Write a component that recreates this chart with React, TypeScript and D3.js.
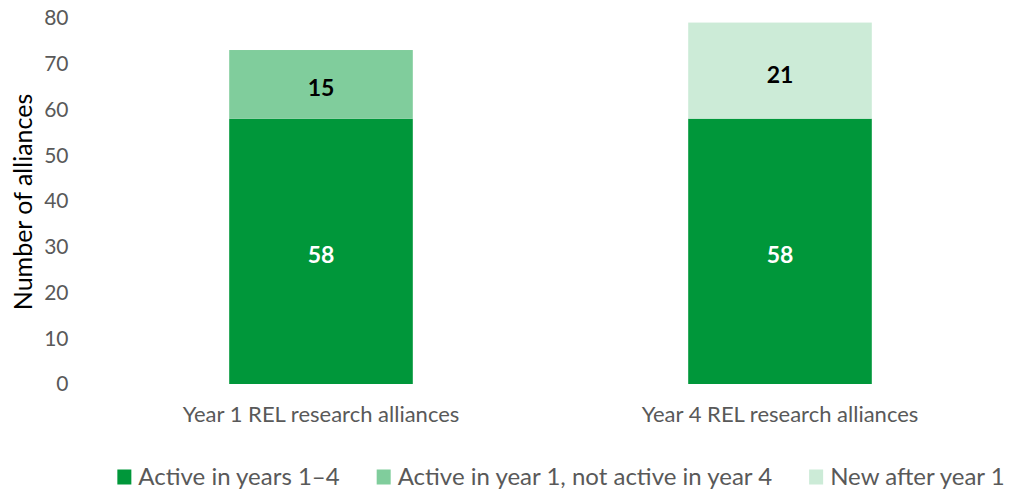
import React, { useEffect, useRef } from "react";
import * as d3 from "d3";

const categories = ["Year 1 REL research alliances", "Year 4 REL research alliances"];
const seriesNames = ["Active in years 1–4", "Active in year 1, not active in year 4", "New after year 1"];
const activeAll = [58, 58];
const activeYear1Only = [15, 0];
const newAfter = [0, 21];
const yTicks = [0, 10, 20, 30, 40, 50, 60, 70, 80];
const colors = ["#00973A", "#80CD9C", "#CCEBD7"];
const labelColors = ["#FFFFFF", "#000000", "#000000"];

const W = 1012;
const H = 493;
const FONT = "Lato, 'Open Sans', sans-serif";

export default function App() {
  const ref = useRef<SVGSVGElement | null>(null);

  useEffect(() => {
    const svg = d3.select(ref.current);
    svg.selectAll("*").remove();

    const x = d3.scaleBand<string>().domain(categories).range([91.5, 1009.5]).paddingInner(0.6).paddingOuter(0.3);
    const y = d3.scaleLinear().domain([0, 80]).range([384, 18]);

    const rows = categories.map((c, i) => ({
      cat: c,
      s0: activeAll[i],
      s1: activeYear1Only[i],
      s2: newAfter[i],
    }));
    const stack = d3.stack<any>().keys(["s0", "s1", "s2"]);
    const stacked = stack(rows);

    // y axis tick labels
    svg
      .append("g")
      .selectAll("text")
      .data(yTicks)
      .join("text")
      .attr("x", 68.5)
      .attr("y", (d) => y(d))
      .attr("dy", "0.35em")
      .attr("text-anchor", "end")
      .attr("font-family", FONT)
      .attr("font-size", 21)
      .attr("fill", "#595959")
      .text((d) => String(d));

    // y axis title
    svg
      .append("text")
      .attr("transform", `translate(23,${(y(0) + y(80)) / 2 + 1}) rotate(-90)`)
      .attr("dy", "0.35em")
      .attr("text-anchor", "middle")
      .attr("font-family", FONT)
      .attr("font-size", 25)
      .attr("fill", "#000000")
      .text("Number of alliances");

    // bars
    stacked.forEach((layer, si) => {
      const data = layer.filter((d) => d[1] - d[0] > 0);
      const g = svg.append("g");
      g.selectAll("rect")
        .data(data)
        .join("rect")
        .attr("x", (d) => x((d.data as any).cat)!)
        .attr("width", x.bandwidth())
        .attr("y", (d) => y(d[1]))
        .attr("height", (d) => y(d[0]) - y(d[1]))
        .attr("fill", colors[si]);
      g.selectAll("text")
        .data(data)
        .join("text")
        .attr("x", (d) => x((d.data as any).cat)! + x.bandwidth() / 2)
        .attr("y", (d) => (y(d[0]) + y(d[1])) / 2 + 4)
        .attr("dy", "0.35em")
        .attr("text-anchor", "middle")
        .attr("font-family", FONT)
        .attr("font-weight", "bold")
        .attr("font-size", 23)
        .attr("fill", labelColors[si])
        .text((d) => String(d[1] - d[0]));
    });

    // x category labels
    svg
      .append("g")
      .selectAll("text")
      .data(categories)
      .join("text")
      .attr("x", (d) => x(d)! + x.bandwidth() / 2)
      .attr("y", 414)
      .attr("dy", "0.35em")
      .attr("text-anchor", "middle")
      .attr("font-family", FONT)
      .attr("font-size", 22)
      .attr("fill", "#595959")
      .text((d) => d);

    // legend
    const legend = svg.append("g");
    const items = seriesNames.map((name, i) => {
      const g = legend.append("g");
      g.append("rect").attr("x", 0).attr("y", -7.5).attr("width", 14).attr("height", 15).attr("fill", colors[i]);
      const t = g
        .append("text")
        .attr("x", 21)
        .attr("dy", "0.35em")
        .attr("font-family", FONT)
        .attr("font-size", 24)
        .attr("fill", "#595959")
        .text(name);
      const w = 21 + (t.node() as SVGTextElement).getComputedTextLength();
      return { g, w };
    });
    const gap = 37;
    const total = d3.sum(items, (d) => d.w) + gap * (items.length - 1);
    let cx = 561 - total / 2;
    items.forEach((it) => {
      it.g.attr("transform", `translate(${cx},477)`);
      cx += it.w + gap;
    });
  }, []);

  return (
    <svg
      ref={ref}
      width={W}
      height={H}
      style={{ position: "absolute", left: 0, top: 0, background: "#fff" }}
    />
  );
}
